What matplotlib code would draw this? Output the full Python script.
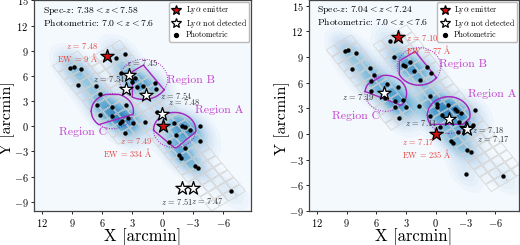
import numpy as np
import matplotlib.pyplot as plt
from matplotlib.lines import Line2D
from matplotlib.patches import Circle
from matplotlib.collections import PolyCollection

plt.rcParams.update({
    'font.family': 'serif', 'font.serif': ['cmr10'], 'mathtext.fontset': 'cm',
    'axes.formatter.use_mathtext': True, 'axes.unicode_minus': True,
})

# ---------------- left panel (7.38 < z < 7.58) ----------------
L_phot_x = [9.20, 8.80, 8.08, 8.40, 4.65, 3.79, 4.15, 3.09, 2.75, 2.52, 1.99, 0.73, 0.63,
            6.60, 6.25, 6.51, 5.08, 6.25, 5.02, 4.02, 4.25, 3.40, 3.66, 3.79, 2.92, 1.73, 0.53,
            -1.18, -1.90, -2.20, -2.75, -3.70, -1.30, -0.63, -3.70, -2.20, -1.65, -1.85, -3.20, -3.52, -6.80]
L_phot_y = [6.98, 7.09, 6.83, 4.91, 8.15, 8.60, 6.31, 5.32, 5.75, 4.68, 4.80, 5.16, 4.50,
            4.80, 3.87, 2.50, 2.28, 1.40, 1.17, 0.62, 0.40, 1.00, 2.58, -0.85, 0.44, 0.51, 1.73,
            0.37, 0.07, -0.10, -0.45, 0.00, -1.00, -1.92, -1.75, -2.60, -3.45, -3.75, -4.70, -4.95, -7.75]
L_lae_x = [5.58, 0.00]
L_lae_y = [8.34, 0.00]
L_lae_z = ['7.48', '7.49']
L_lae_ew = ['9', '334']
L_non_x = [3.39, 3.69, 1.63, 0.07, -1.93, -3.03]
L_non_y = [6.16, 4.39, 3.77, 1.47, -7.42, -7.42]
L_non_z = ['7.45', '7.54', '7.54', '7.48', '7.51', '7.47']
L_regions = {'A': (-1.2, -0.45, 2.1), 'B': (1.9, 5.6, 2.4), 'C': (5.0, 1.8, 2.1)}

# ---------------- right panel (7.04 < z < 7.24) ----------------
R_phot_x = [9.20, 8.83, 8.07, 8.47, 4.63, 4.20, 3.27, 3.13, 2.60, 2.20, 1.60, 0.90, 0.53,
            6.60, 6.20, 6.57, 6.57, 4.90, 5.13, 3.77, 4.07, 3.33, 4.17, 3.73, 2.97,
            1.73, 0.55, -0.07, -0.10, -1.25, -1.92, -2.17, -2.50, -3.95, -0.60, 0.57, -2.33,
            -3.75, -2.23, -0.40, -1.55, -1.75, -3.18, -3.52, -3.00, -6.80]
R_phot_y = [9.67, 9.78, 9.52, 7.58, 10.84, 9.00, 8.06, 7.90, 8.46, 7.36, 6.30, 7.88, 7.10,
            7.66, 6.85, 6.15, 5.02, 5.83, 4.20, 5.43, 3.86, 4.00, 3.20, 1.84, 3.20,
            3.25, 4.40, 3.50, 3.15, 3.40, 2.90, 2.65, 2.45, 2.75, 2.25, 2.14, 1.45,
            1.00, 0.28, 0.86, -0.83, -1.02, -1.92, -2.12, -4.72, -4.97]
R_lae_x = [3.80, 0.00]
R_lae_y = [11.31, 0.00]
R_lae_z = ['7.10', '7.17']
R_lae_ew = ['77', '235']
R_non_x = [5.20, -1.33, -3.03, -3.10]
R_non_y = [4.74, 1.74, 0.65, 0.55]
R_non_z = ['7.19', '7.11', '7.18', '7.17']
R_regions = {'A': (-1.3, 2.2, 2.15), 'B': (1.7, 7.9, 2.2), 'C': (5.05, 4.75, 2.1)}

MAG = '#a526bf'
MAG_TXT = '#c443cc'
RED_TXT = '#e5443c'
U = np.array([-0.57, -0.82])
V = np.array([-0.82, 0.57])


def tiles(p0, t0, n_along, s0, n_across, step=1.05, side=0.95):
    polys = []
    h = side / 2
    for i in range(n_along):
        for j in range(n_across):
            c = np.array(p0) + (t0 + (i + 0.5) * step) * U + (s0 + (j + 0.5) * step) * V
            polys.append([c + a * h * U + b * h * V for a, b in [(-1, -1), (1, -1), (1, 1), (-1, 1)]])
    return polys


def clip(poly, c, n, d):
    out = []
    f = lambda p: np.dot(p - c, n) - d
    for k in range(len(poly)):
        p, q = poly[k], poly[(k + 1) % len(poly)]
        fp, fq = f(p), f(q)
        if fp <= 0:
            out.append(p)
        if fp * fq < 0:
            out.append(p + (q - p) * fp / (fp - fq))
    return out


def region(ax, cx, cy, r, cuts):
    c = np.array([cx, cy])
    th = np.linspace(0, 2 * np.pi, 240, endpoint=False)
    poly = [c + r * np.array([np.cos(t), np.sin(t)]) for t in th]
    for ang, d in cuts:
        a = np.radians(ang)
        poly = clip(poly, c, np.array([np.cos(a), np.sin(a)]), d * r)
    poly = np.array(poly + [poly[0]])
    ax.add_patch(Circle((cx, cy), r, fill=False, ls=(0, (1, 1.5)), color=MAG, lw=0.7, zorder=3))
    ax.plot(poly[:, 0], poly[:, 1], color=MAG, lw=1.0, zorder=3)


def panel(ax, px, py, lx, ly, lz, lew, nx, ny, nz, regs, cuts, strips, xlim, ylim, spec):
    xx, yy = np.meshgrid(np.linspace(-10, 14, 240), np.linspace(-12, 17, 260))
    dens = np.zeros_like(xx)
    for x0, y0 in zip(px, py):
        du = (xx - x0) * U[0] + (yy - y0) * U[1]
        dv = (xx - x0) * V[0] + (yy - y0) * V[1]
        dens += np.exp(-du ** 2 / (2 * 1.5 ** 2) - dv ** 2 / (2 * 0.8 ** 2))
    ax.contourf(xx, yy, dens, levels=np.linspace(0, dens.max() * 1.45, 30), cmap='Blues', zorder=0)
    polys = []
    for s in strips:
        polys += tiles(*s)
    ax.add_collection(PolyCollection(polys, facecolors='none', edgecolors='#d2d2d2', linewidths=0.5, zorder=1))
    for k, (cx, cy, r) in regs.items():
        region(ax, cx, cy, r, cuts[k])
    ax.scatter(px, py, s=10, color='k', zorder=4, lw=0)
    ax.scatter(nx, ny, marker='*', s=100, facecolor='white', edgecolor='k', lw=0.9, zorder=5)
    ax.scatter(lx, ly, marker='*', s=100, facecolor='#d10f0f', edgecolor='k', lw=0.9, zorder=5)
    ax.set_xlim(*xlim)
    ax.set_ylim(*ylim)
    ax.set_xticks([12, 9, 6, 3, 0, -3, -6])
    ax.set_yticks(np.arange(-9, 16, 3))
    ax.tick_params(labelsize=7.5, length=2.5, width=0.6, pad=1.5)
    ax.set_xlabel('X [arcmin]', fontsize=12, labelpad=0)
    ax.set_ylabel('Y [arcmin]', fontsize=11.5)
    ax.yaxis.set_label_coords(-0.088, 0.44)
    for sp in ax.spines.values():
        sp.set_color('#444444')
        sp.set_linewidth(0.9)
    ax.text(0.04, 0.985, 'Spec-$z$: $' + spec + '$\nPhotometric: $7.0 < z < 7.6$',
            transform=ax.transAxes, va='top', ha='left', fontsize=7.0, linespacing=1.05)
    h = [Line2D([], [], marker='*', ls='none', ms=7.5, mfc='#d10f0f', mec='k', mew=0.9),
         Line2D([], [], marker='*', ls='none', ms=7.5, mfc='white', mec='k', mew=0.9),
         Line2D([], [], marker='o', ls='none', ms=2.8, mfc='k', mec='k')]
    ax.legend(h, [r'Ly$\alpha$ emitter', r'Ly$\alpha$ not detected', 'Photometric'],
              loc='upper right', fontsize=5.7, borderaxespad=0.2, handletextpad=0.5,
              labelspacing=0.1, borderpad=0.3, handlelength=1.3, edgecolor='#bbbbbb', framealpha=1)


fig = plt.figure(figsize=(5.2, 2.45), dpi=100)
axL = fig.add_axes([0.0654, 0.139, 0.4173, 0.859])
axR = fig.add_axes([0.5942, 0.139, 0.4040, 0.859])

L_cuts = {'A': [(315, 0.72), (225, 0.78)], 'B': [(0, 0.46), (55, 0.58), (145, 0.4)],
          'C': [(90, 0.95), (250, 0.5)]}
R_cuts = {'A': [(270, 0.5), (222, 0.84)], 'B': [(0, 0.9), (55, 0.75), (145, 0.31)],
          'C': [(55, 0.9), (294, 0.31)]}
L_strips = [((0.0, 0.5), -10.5, 21, -2.1, 4), ((6.4, 3.4), -5.8, 11, -1.6, 3)]
R_strips = [((-1.6, 2.6), -11, 20, -2.1, 4), ((6.5, 6.0), -5.8, 11, -1.6, 3)]

panel(axL, L_phot_x, L_phot_y, L_lae_x, L_lae_y, L_lae_z, L_lae_ew, L_non_x, L_non_y, L_non_z,
      L_regions, L_cuts, L_strips, (12.8, -8.8), (-10.1, 13.0), r'7.38 < z < 7.58')
panel(axR, R_phot_x, R_phot_y, R_lae_x, R_lae_y, R_lae_z, R_lae_ew, R_non_x, R_non_y, R_non_z,
      R_regions, R_cuts, R_strips, (12.8, -8.4), (-7.6, 15.6), r'7.04 < z < 7.24')

# region names
for ax, pos in [(axL, {'A': (-5.6, 1.9), 'B': (-2.8, 5.5), 'C': (7.9, -0.7)}),
                (axR, {'A': (-5.7, 4.66), 'B': (-2.7, 8.2), 'C': (8.0, 2.1)})]:
    for k, (x, y) in pos.items():
        ax.text(x, y, 'Region ' + k, color=MAG_TXT, fontsize=8.5, ha='center', va='center', zorder=6)


def lbl(ax, x, y, s, dx, dy, color, ha, va):
    ax.annotate(s, (x, y), xytext=(dx, dy), textcoords='offset pixels', fontsize=6.0,
                color=color, ha=ha, va=va, linespacing=1.0, zorder=6)


# left star labels
lbl(axL, L_lae_x[0], L_lae_y[0], '$z$ = ' + L_lae_z[0] + '\nEW = ' + L_lae_ew[0] + r' $\mathrm{\AA}$', -8, 4, RED_TXT, 'right', 'center')
lbl(axL, L_lae_x[1], L_lae_y[1], '$z$ = ' + L_lae_z[1] + '\nEW = ' + L_lae_ew[1] + r' $\mathrm{\AA}$', -10, -21, RED_TXT, 'right', 'center')
nofs = [(-3, 7, 'left', 'bottom'), (0, 5, 'right', 'bottom'), (14, -1, 'left', 'center'),
        (6, 12, 'left', 'center'), (-5, -8, 'center', 'top'), (14, -8, 'center', 'top')]
for x, y, z, (dx, dy, ha, va) in zip(L_non_x, L_non_y, L_non_z, nofs):
    lbl(axL, x, y, '$z$ = ' + z, dx, dy, '#333333', ha, va)

# right star labels
lbl(axR, R_lae_x[0], R_lae_y[0], '$z$ = ' + R_lae_z[0] + '\nEW = ' + R_lae_ew[0] + r' $\mathrm{\AA}$', 8, -7, RED_TXT, 'left', 'center')
lbl(axR, R_lae_x[1], R_lae_y[1], '$z$ = ' + R_lae_z[1] + '\nEW = ' + R_lae_ew[1] + r' $\mathrm{\AA}$', -34, -3, RED_TXT, 'left', 'top')
nofs = [(-10, -4, 'right', 'center'), (-12, -4, 'right', 'center'), (6, -2, 'left', 'center'),
        (10, -10, 'left', 'center')]
for x, y, z, (dx, dy, ha, va) in zip(R_non_x, R_non_y, R_non_z, nofs):
    lbl(axR, x, y, '$z$ = ' + z, dx, dy, '#333333', ha, va)

fig.savefig('out.png', dpi=100)
